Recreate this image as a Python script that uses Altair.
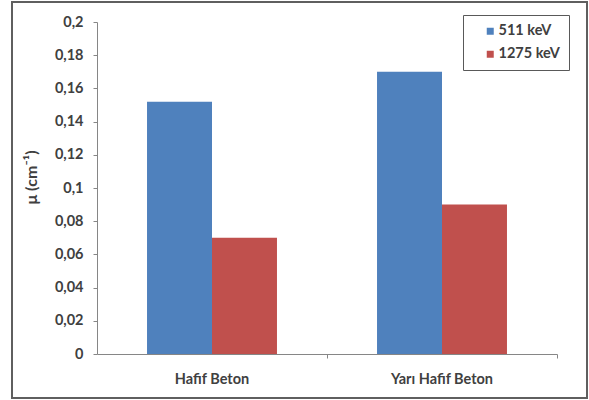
import altair as alt
import pandas as pd

categories = ["Hafif Beton", "Yarı Hafif Beton"]
series = ["511 keV", "1275 keV"]
values_511 = [0.152, 0.17]
values_1275 = [0.07, 0.09]
y_ticks = [0, 0.02, 0.04, 0.06, 0.08, 0.1, 0.12, 0.14, 0.16, 0.18, 0.2]
colors = ["#4F81BD", "#C0504D"]

rows = []
for i, c in enumerate(categories):
    rows.append({"category": c, "series": series[0], "value": values_511[i]})
    rows.append({"category": c, "series": series[1], "value": values_1275[i]})
df = pd.DataFrame(rows)

FONT = "Lato"
TXT = "#404040"
AX = "#868686"
FS = 14.5

bars = alt.Chart(df).mark_bar().encode(
    x=alt.X(
        "category:N",
        sort=categories,
        scale=alt.Scale(paddingInner=0.435, paddingOuter=0.2175),
        axis=alt.Axis(
            title=None,
            labelAngle=0,
            bandPosition=1.385,
            tickSize=4,
            tickColor=AX,
            domainColor=AX,
            labelPadding=14,
            labelFont=FONT,
            labelFontSize=FS,
            labelFontWeight="bold",
            labelColor=TXT,
        ),
    ),
    xOffset=alt.XOffset(
        "series:N", sort=series, scale=alt.Scale(paddingInner=0, paddingOuter=0)
    ),
    y=alt.Y(
        "value:Q",
        scale=alt.Scale(domain=[0, 0.2], nice=False),
        axis=alt.Axis(
            values=y_ticks,
            labelExpr="replace(format(datum.value, '~g'), '.', ',')",
            title="μ (cm⁻¹)",
            grid=False,
            tickSize=4,
            tickColor=AX,
            domainColor=AX,
            labelPadding=10,
            labelFont=FONT,
            labelFontSize=FS,
            labelFontWeight="bold",
            labelColor=TXT,
            titleFont=FONT,
            titleFontSize=16,
            titleFontWeight="bold",
            titleColor=TXT,
            titlePadding=15,
            titleY=155,
        ),
    ),
    color=alt.Color(
        "series:N",
        sort=series,
        scale=alt.Scale(domain=series, range=colors),
        legend=alt.Legend(
            title=None,
            orient="none",
            legendX=366,
            legendY=-7,
            strokeColor="#595959",
            fillColor="white",
            padding=9,
            symbolOffset=11,
            rowPadding=8,
            symbolType="square",
            symbolSize=49,
            symbolStrokeWidth=0,
            labelFont=FONT,
            labelFontSize=FS,
            labelFontWeight="bold",
            labelColor=TXT,
            labelOffset=1,
        ),
    ),
)

frame = alt.Chart(pd.DataFrame({"a": [0]})).mark_rect(
    fill="transparent", stroke="#5f5f5f", strokeWidth=2
).encode(
    x=alt.value(-85), x2=alt.value(490), y=alt.value(-20), y2=alt.value(376)
)

chart = alt.layer(frame, bars).properties(
    width=460,
    height=332,
    padding={"left": 97, "top": 22, "right": 32, "bottom": 46},
    autosize=alt.AutoSizeParams(type="none"),
    background="white",
).configure_view(strokeWidth=0)

chart.save("out.html", embed_options={"renderer": "svg", "actions": False})
